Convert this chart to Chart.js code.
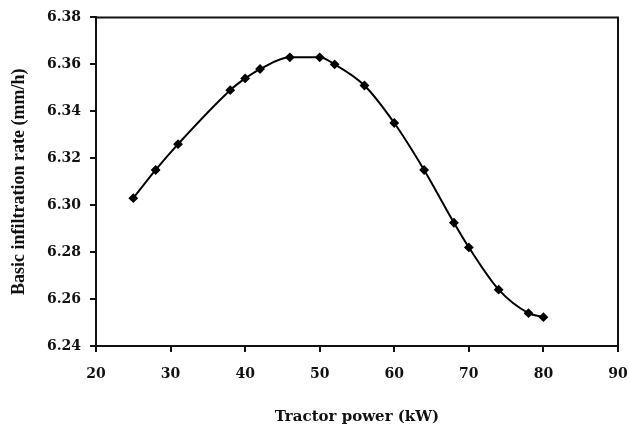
<!DOCTYPE html>
<html>
<head>
<meta charset="utf-8">
<script src="https://cdn.jsdelivr.net/npm/chart.js@4.4.0/dist/chart.umd.min.js"></script>
<style>
  html, body { margin: 0; padding: 0; background: #fff; }
  #wrap { width: 630px; height: 429px; }
</style>
</head>
<body>
<div id="wrap"><canvas id="myChart"></canvas></div>
<script>
// tractor power (kW) and basic infiltration rate (mm/h)
const power = [25, 28, 31, 38, 40, 42, 46, 50, 52, 56, 60, 64, 68, 70, 74, 78, 80];
const rate = [6.303, 6.315, 6.326, 6.349, 6.354, 6.358, 6.363, 6.363, 6.360, 6.351, 6.335, 6.315, 6.2925, 6.282, 6.264, 6.254, 6.2523];
const xTicks = [20, 30, 40, 50, 60, 70, 80, 90];
const yTicks = [6.24, 6.26, 6.28, 6.30, 6.32, 6.34, 6.36, 6.38];

const tickFont = { family: 'DejaVu Serif', size: 14, weight: 'bold' };

// top and right frame lines
const frame = {
  id: 'frame',
  afterDraw(chart) {
    const { ctx, chartArea: a } = chart;
    ctx.save();
    ctx.strokeStyle = '#111';
    ctx.lineWidth = 2;
    ctx.beginPath();
    ctx.moveTo(a.left, a.top);
    ctx.lineTo(a.right, a.top);
    ctx.lineTo(a.right, a.bottom + 6);
    ctx.stroke();
    ctx.restore();
  }
};

new Chart(document.getElementById('myChart'), {
  type: 'line',
  data: {
    datasets: [{
      data: power.map((p, i) => ({ x: p, y: rate[i] })),
      borderColor: '#000',
      backgroundColor: '#000',
      borderWidth: 2,
      pointStyle: 'rectRot',
      pointRadius: 3.5,
      cubicInterpolationMode: 'monotone',
      fill: false
    }]
  },
  options: {
    responsive: true,
    maintainAspectRatio: false,
    animation: false,
    layout: { padding: { top: 15, right: 12, bottom: 0, left: 0 } },
    plugins: { legend: { display: false }, tooltip: { enabled: false } },
    scales: {
      x: {
        type: 'linear',
        min: 20, max: 90,
        afterBuildTicks: ax => { ax.ticks = xTicks.map(v => ({ value: v })); },
        afterFit: ax => { ax.height = 83; ax.paddingRight = 0; ax.paddingLeft = 0; },
        grid: { drawOnChartArea: false, drawTicks: true, tickLength: 6, color: '#111', lineWidth: 2 },
        border: { color: '#111', width: 2 },
        ticks: { color: '#111', font: tickFont, padding: 14, maxRotation: 0 },
        title: {
          display: true,
          text: 'Tractor power (kW)',
          color: '#111',
          font: { family: 'DejaVu Serif', size: 15, weight: 'bold' },
          padding: { top: 0, bottom: 3 }
        }
      },
      y: {
        min: 6.24, max: 6.38,
        afterBuildTicks: ax => { ax.ticks = yTicks.map(v => ({ value: v })); },
        afterFit: ax => { ax.width = 96; },
        grid: { drawOnChartArea: false, drawTicks: true, tickLength: 6, color: '#111', lineWidth: 2 },
        border: { color: '#111', width: 2 },
        ticks: { color: '#111', font: tickFont, padding: 9, callback: v => v.toFixed(2) },
        title: {
          display: true,
          text: 'Basic infiltration rate (mm/h)',
          color: '#111',
          font: { family: 'Liberation Serif', size: 18, weight: 'bold' },
          padding: { top: 9, bottom: 0 }
        }
      }
    }
  },
  plugins: [frame]
});
</script>
</body>
</html>
